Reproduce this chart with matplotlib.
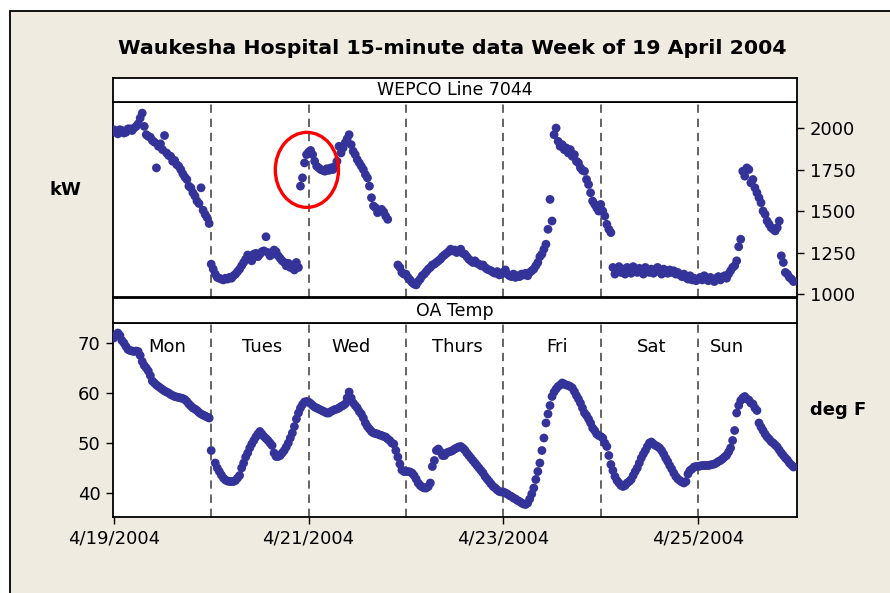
import numpy as np
import pandas as pd
import matplotlib
matplotlib.use('Agg')
import matplotlib.pyplot as plt
import matplotlib.dates as mdates
from matplotlib.patches import Ellipse, Rectangle

nan = np.nan

# ---- data: half-hourly readings (kW, WEPCO Line 7044) ----
kw_mon = [1990, 1975, 1965, 1990, 1985, 1970, 1975, 1995, 1995, 1985, 2000, 2010,
          2025, 2060, 2090, 2010, 1960, 1950, 1945, 1925, 1915, 1760, 1890, 1905,
          1870, 1955, 1850, 1835, 1830, 1800, 1805, 1780, 1770, 1750, 1725, 1705,
          1690, 1650, 1640, 1610, 1590, 1560, 1545, 1640, 1505, 1480, 1460, 1425]
kw_tue = [1180, 1150, 1120, 1100, 1095, 1090, 1085, 1095, 1090, 1100, 1095, 1110,
          1120, 1135, 1150, 1170, 1190, 1210, 1235, 1220, 1200, 1240, 1245, 1225,
          1240, 1255, 1260, 1345, 1250, 1230, 1240, 1265, 1255, 1230, 1215, 1200,
          1190, 1170, 1185, 1160, 1175, 1145, 1190, 1160, 1650, 1700, 1790, 1840]
kw_wed = [1855, 1865, 1840, 1800, 1770, 1760, 1750, 1745, 1740, 1755, 1745, 1760,
          1750, 1770, 1800, 1890, 1850, 1880, 1910, 1935, 1960, 1900, 1860, 1840,
          1810, 1790, 1770, 1750, 1720, 1700, 1650, 1580, 1530, 1520, 1490, 1500,
          1510, 1495, 1470, 1450, nan, nan, nan, nan, 1175, 1160, 1130, 1120]
kw_thu = [1120, 1100, 1085, 1070, 1060, 1055, 1075, 1090, 1110, 1120, 1135, 1150,
          1160, 1175, 1180, 1190, 1200, 1210, 1225, 1235, 1245, 1255, 1270, 1260,
          1265, 1250, 1260, 1270, 1245, 1240, 1225, 1210, 1200, 1190, 1200, 1185,
          1180, 1170, 1175, 1160, 1150, 1145, 1140, 1130, 1125, 1135, 1115, 1120]
kw_fri = [1130, 1145, 1120, 1110, 1105, 1120, 1100, 1110, 1105, 1120, 1115, 1125,
          1110, 1130, 1140, 1150, 1170, 1190, 1225, 1240, 1270, 1300, 1390, 1570,
          1440, 1960, 2000, 1920, 1890, 1900, 1870, 1880, 1850, 1870, 1830, 1840,
          1800, 1790, 1760, 1745, 1740, 1690, 1660, 1610, 1560, 1540, 1520, 1500]
kw_sat = [1540, 1500, 1470, 1420, 1390, 1370, 1160, 1120, 1140, 1165, 1130, 1150,
          1120, 1160, 1140, 1125, 1165, 1145, 1130, 1155, 1140, 1120, 1160, 1145,
          1130, 1150, 1125, 1145, 1160, 1135, 1120, 1150, 1140, 1125, 1145, 1130,
          1140, 1120, 1130, 1115, 1105, 1120, 1100, 1090, 1110, 1085, 1095, 1080]
kw_sun = [1090, 1100, 1085, 1110, 1090, 1080, 1100, 1085, 1075, 1095, 1105, 1085,
          1100, 1110, 1095, 1120, 1140, 1160, 1170, 1200, 1285, 1330, 1740, 1710,
          1760, 1750, 1670, 1690, 1640, 1610, 1580, 1550, 1500, 1480, 1440, 1420,
          1400, 1390, 1380, 1400, 1440, 1230, 1190, 1130, 1120, 1100, 1090, 1075]

# ---- data: half-hourly outside air temperature (deg F) ----
t_mon = [71.0, 71.5, 72.0, 71.5, 70.5, 70.0, 69.3, 68.7, 68.5, 68.4, 68.3, 68.4,
         68.3, 67.5, 66.3, 65.5, 65.0, 64.4, 63.5, 62.4, 62.0, 61.6, 61.3, 61.0,
         60.7, 60.4, 60.2, 60.0, 59.7, 59.5, 59.3, 59.2, 59.1, 59.0, 58.9, 58.7,
         58.3, 57.8, 57.4, 57.0, 56.8, 56.5, 56.1, 55.8, 55.6, 55.4, 55.2, 55.0]
t_tue = [48.5, nan, 46.0, 45.0, 44.3, 43.6, 43.0, 42.6, 42.4, 42.3, 42.3, 42.3,
         42.5, 43.0, 43.5, 45.0, 46.0, 47.2, 48.0, 49.0, 49.8, 50.5, 51.2, 51.8,
         52.3, 51.8, 51.3, 50.9, 50.5, 50.0, 49.5, 48.0, 47.3, 47.3, 47.5, 48.0,
         48.5, 49.2, 50.0, 51.0, 52.0, 53.3, 54.8, 56.0, 57.0, 57.7, 58.2, 58.3]
t_wed = [58.2, 57.9, 57.5, 57.2, 57.0, 56.8, 56.6, 56.4, 56.2, 56.0, 56.0, 56.3,
         56.5, 56.7, 56.8, 57.0, 57.3, 57.5, 57.8, 59.0, 60.2, 59.0, 58.0, 57.5,
         57.0, 56.3, 55.8, 55.0, 54.0, 53.3, 52.8, 52.3, 52.0, 51.9, 51.8, 51.6,
         51.5, 51.3, 51.2, 50.8, 50.5, 50.0, 49.8, 48.5, 47.2, 45.8, 44.6, 44.3]
t_thu = [44.3, 44.3, 44.2, 44.0, 43.5, 42.8, 42.0, 41.5, 41.2, 41.0, 41.0, 41.3,
         42.0, 45.3, 46.5, 48.5, 48.8, 48.2, 47.5, 47.5, 48.0, 48.2, 48.3, 48.5,
         48.8, 49.0, 49.2, 49.3, 49.0, 48.6, 48.0, 47.5, 47.0, 46.5, 46.0, 45.5,
         45.0, 44.5, 44.0, 43.3, 42.8, 42.3, 41.8, 41.3, 41.0, 40.6, 40.3, 40.2]
t_fri = [40.2, 40.0, 39.8, 39.5, 39.3, 39.0, 38.8, 38.5, 38.3, 38.0, 37.8, 37.7,
         38.0, 38.8, 39.8, 41.0, 42.7, 44.3, 46.0, 48.5, 51.0, 54.0, 55.8, 57.5,
         59.3, 60.2, 60.8, 61.3, 61.6, 62.0, 61.8, 61.6, 61.5, 61.3, 61.0, 60.3,
         59.5, 58.8, 58.0, 57.0, 56.0, 55.5, 54.8, 54.0, 53.0, 52.5, 51.8, 51.5]
t_sat = [51.3, 51.0, 50.0, 49.3, 47.5, 45.7, 44.5, 43.3, 42.5, 42.0, 41.5, 41.3,
         41.5, 42.0, 42.3, 42.7, 43.5, 44.3, 45.0, 46.0, 47.0, 47.8, 48.5, 49.3,
         50.0, 50.2, 49.8, 49.5, 49.3, 49.0, 48.5, 47.8, 47.0, 46.3, 45.5, 44.8,
         44.0, 43.3, 42.8, 42.5, 42.2, 42.0, 42.3, 43.8, 44.5, 44.8, 45.2, 45.3]
t_sun = [45.3, 45.4, 45.5, 45.5, 45.5, 45.5, 45.6, 45.7, 45.8, 46.0, 46.3, 46.5,
         46.8, 47.2, 47.5, 48.2, 49.0, 50.5, 52.5, 56.0, 57.5, 58.5, 59.0, 59.3,
         58.8, 58.6, 58.0, 57.8, 57.0, 56.5, 54.0, 53.2, 52.5, 51.8, 51.2, 50.8,
         50.3, 50.0, 49.6, 49.2, 48.6, 48.0, 47.5, 47.0, 46.6, 46.0, 45.6, 45.2]

day_names = ['Mon', 'Tues', 'Wed', 'Thurs', 'Fri', 'Sat', 'Sun']
date_ticks = ['2004-04-19', '2004-04-21', '2004-04-23', '2004-04-25']
date_labels = ['4/19/2004', '4/21/2004', '4/23/2004', '4/25/2004']
kw_ticks = [1000, 1250, 1500, 1750, 2000]
temp_ticks = [40, 50, 60, 70]

kw = kw_mon + kw_tue + kw_wed + kw_thu + kw_fri + kw_sat + kw_sun
temp = t_mon + t_tue + t_wed + t_thu + t_fri + t_sat + t_sun
n = min(len(kw), len(temp))
kw, temp = kw[:n], temp[:n]
times = pd.date_range('2004-04-19', periods=n, freq='30min')

# ---- styling ----
W, H = 890, 593
BG = '#EFEBE1'
DOT = '#333399'
plt.rcParams['font.family'] = ['DejaVu Sans']

fig = plt.figure(figsize=(W / 100, H / 100), dpi=100, facecolor='white')
fig.patches.append(Rectangle((10 / W, -0.05), 1.2, 1.05 - 11 / H, transform=fig.transFigure,
                             facecolor=BG, edgecolor='black', lw=1.3, zorder=-10))


def box(x0, y0, x1, y1):
    return [x0 / W, 1 - y1 / H, (x1 - x0) / W, (y1 - y0) / H]


ax1 = fig.add_axes(box(113, 102, 797, 297))
ax2 = fig.add_axes(box(113, 323, 797, 517), sharex=ax1)
s1 = fig.add_axes(box(113, 78, 797, 102))
s2 = fig.add_axes(box(113, 298, 797, 323))

x0 = pd.Timestamp('2004-04-19') - pd.Timedelta(minutes=12)
x1 = pd.Timestamp('2004-04-26') + pd.Timedelta(minutes=22)
bounds = pd.date_range('2004-04-20', periods=6, freq='D')

for ax in (ax1, ax2):
    ax.set_facecolor('white')
    for sp in ax.spines.values():
        sp.set_linewidth(1.3)
        sp.set_color('black')
    for b in bounds:
        ax.axvline(b, color='#4a4a4a', lw=1.2, dashes=(5, 3.5), zorder=1)
    ax.set_xlim(x0, x1)

ax1.scatter(times, kw, s=40, c=DOT, edgecolors='none', zorder=3)
ax2.scatter(times, temp, s=40, c=DOT, edgecolors='none', zorder=3)

ax1.set_ylim(982, 2157)
ax1.yaxis.tick_right()
ax1.set_yticks(kw_ticks)
ax1.tick_params(axis='y', direction='out', length=5, width=1, labelsize=13, pad=4)
ax1.tick_params(axis='x', bottom=False, labelbottom=False)

ax2.set_ylim(35.2, 74.0)
ax2.set_yticks(temp_ticks)
ax2.tick_params(axis='y', direction='out', length=5, width=1, labelsize=13, pad=4)
ax2.set_xticks(pd.to_datetime(date_ticks))
ax2.set_xticklabels(date_labels)
ax2.tick_params(axis='x', direction='out', length=5, width=1, labelsize=13, pad=4)

# red circle highlight
ell = Ellipse((mdates.date2num(pd.Timestamp('2004-04-20 23:35')), 1748),
              width=0.649, height=452, fill=False, edgecolor='red', lw=2.4, zorder=4)
ax1.add_patch(ell)

# day labels
day_pos = [0.544, 1.528, 2.44, 3.528, 4.554, 5.518, 6.297]
for name, p in zip(day_names, day_pos):
    ax2.text(pd.Timestamp('2004-04-19') + pd.Timedelta(days=p), 69.2, name,
             ha='center', va='center', fontsize=13, color='black')

for s, lab in ((s1, 'WEPCO Line 7044'), (s2, 'OA Temp')):
    s.set_facecolor('white')
    s.set_xticks([])
    s.set_yticks([])
    for sp in s.spines.values():
        sp.set_linewidth(1.3)
    s.text(0.5, 0.5, lab, ha='center', va='center', fontsize=12.5, transform=s.transAxes)

fig.text(65 / W, 1 - 190 / H, 'kW', ha='center', va='center', fontsize=13, weight='bold')
fig.text(838 / W, 1 - 410 / H, 'deg F', ha='center', va='center', fontsize=13, weight='bold')

title = fig.text(452 / W, 1 - 48 / H, 'Waukesha Hospital 15-minute data Week of 19 April 2004',
                 ha='center', va='center', fontsize=15, weight='bold')
fig.canvas.draw()
wpx = title.get_window_extent().width
title.set_fontsize(15 * 669 / wpx)

fig.savefig('out.png', dpi=100, facecolor=fig.get_facecolor())
